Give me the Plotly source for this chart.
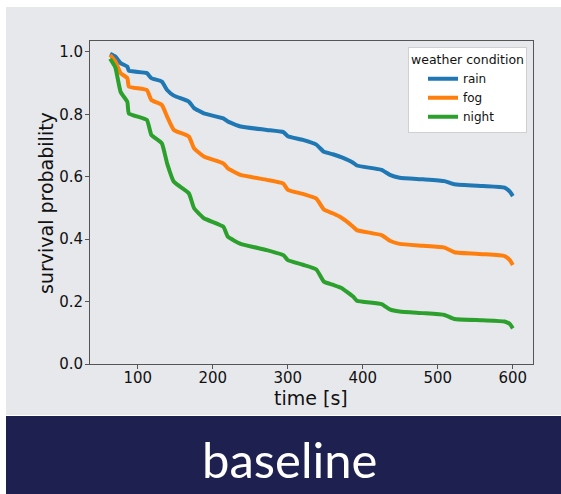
import plotly.graph_objects as go

# Survival curves per weather condition
time_s = [63, 70, 77, 86, 88, 112, 118, 132, 139, 148, 168, 175, 188, 214, 220,
          237, 272, 294, 300, 320, 338, 348, 360, 372, 387, 392, 425, 436, 449,
          480, 509, 522, 560, 589, 596, 600]

rain = [0.994, 0.985, 0.964, 0.953, 0.940, 0.932, 0.916, 0.905, 0.878, 0.860,
        0.841, 0.820, 0.803, 0.787, 0.777, 0.761, 0.750, 0.743, 0.730, 0.718,
        0.703, 0.680, 0.672, 0.662, 0.645, 0.636, 0.622, 0.606, 0.597, 0.592,
        0.586, 0.576, 0.570, 0.565, 0.552, 0.538]

fog = [0.990, 0.970, 0.932, 0.916, 0.889, 0.878, 0.846, 0.830, 0.793, 0.750,
       0.729, 0.691, 0.665, 0.643, 0.627, 0.606, 0.590, 0.578, 0.558, 0.545,
       0.530, 0.495, 0.483, 0.468, 0.440, 0.429, 0.413, 0.395, 0.385, 0.379,
       0.373, 0.358, 0.352, 0.346, 0.333, 0.317]

night = [0.978, 0.950, 0.872, 0.840, 0.803, 0.782, 0.734, 0.707, 0.643, 0.584,
         0.547, 0.499, 0.467, 0.440, 0.408, 0.385, 0.365, 0.349, 0.333, 0.318,
         0.303, 0.264, 0.254, 0.243, 0.216, 0.203, 0.192, 0.175, 0.168, 0.163,
         0.157, 0.144, 0.140, 0.136, 0.128, 0.114]

series = [("rain", rain, "#1f77b4"), ("fog", fog, "#ff7f0e"), ("night", night, "#2ca02c")]
x_ticks = [100, 200, 300, 400, 500, 600]
y_ticks = [0.0, 0.2, 0.4, 0.6, 0.8, 1.0]

W, H = 561, 494
FONT = "DejaVu Sans"

fig = go.Figure()
for name, vals, color in series:
    fig.add_trace(go.Scatter(x=time_s, y=vals, mode="lines", name=name,
                             line=dict(color=color, width=4, shape="spline", smoothing=0.4)))

tick_font = dict(family=FONT, size=15, color="#111")
axis_common = dict(showline=True, linecolor="#555", linewidth=1, mirror=True,
                   ticks="outside", ticklen=4, tickcolor="#555", showgrid=False,
                   zeroline=False, tickfont=tick_font, automargin=False)

fig.update_layout(
    width=W, height=H,
    margin=dict(l=0, r=0, t=0, b=0, autoexpand=False),
    paper_bgcolor="white",
    plot_bgcolor="white",
    xaxis=dict(domain=[90 / W, 533 / W], range=[36.2, 626.9], tickvals=x_ticks,
               ticklabelstandoff=-4, **axis_common),
    yaxis=dict(domain=[(H - 364) / H, (H - 41) / H], range=[0, 1.035], tickvals=y_ticks,
               tickformat=".1f", ticklabelstandoff=-1, **axis_common),
    legend=dict(xref="container", yref="container",
                x=527 / W, y=1 - 47 / H, xanchor="right", yanchor="top",
                bgcolor="white", bordercolor="#d0d0d0", borderwidth=1,
                font=dict(family=FONT, size=12, color="#111"),
                title=dict(text="weather condition", font=dict(family=FONT, size=12.5, color="#111"),
                           side="top center"),
                itemwidth=30, tracegroupgap=0, indentation=14),
    showlegend=True,
    shapes=[
        dict(type="rect", xref="paper", yref="paper", x0=6 / W, x1=1,
             y0=(H - 415) / H, y1=(H - 7) / H, fillcolor="#e7e8ec", line=dict(width=0), layer="below"),
        dict(type="rect", xref="paper", yref="paper", x0=6 / W, x1=1,
             y0=0, y1=(H - 416) / H, fillcolor="#1e2150", line=dict(width=0), layer="below"),
    ],
    annotations=[
        dict(text="time [s]", xref="paper", yref="paper", x=311 / W, y=(H - 398) / H,
             xanchor="center", yanchor="middle", showarrow=False,
             font=dict(family=FONT, size=19, color="#111")),
        dict(text="survival probability", xref="paper", yref="paper", x=46 / W, y=(H - 203) / H,
             xanchor="center", yanchor="middle", showarrow=False, textangle=-90,
             font=dict(family=FONT, size=19, color="#111")),
        dict(text="baseline", xref="paper", yref="paper", x=289 / W, y=(H - 459) / H,
             xanchor="center", yanchor="middle", showarrow=False,
             font=dict(family="Lato", size=49, color="white")),
    ],
)

fig.write_html("out.html")
